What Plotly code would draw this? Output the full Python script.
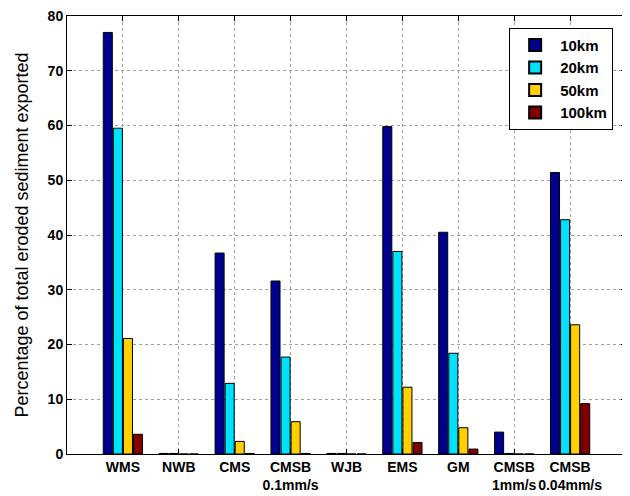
import plotly.graph_objects as go

categories = ["WMS", "NWB", "CMS", "CMSB<br>0.1mm/s", "WJB", "EMS", "GM", "CMSB<br>1mm/s", "CMSB<br>0.04mm/s"]
x_pos = [1, 2, 3, 4, 5, 6, 7, 8, 9]
series_names = ["10km", "20km", "50km", "100km"]
v10 = [77.0, 0.1, 36.7, 31.6, 0.1, 59.8, 40.5, 4.0, 51.4]
v20 = [59.5, 0.1, 12.9, 17.7, 0.1, 37.0, 18.4, 0.1, 42.8]
v50 = [21.1, 0.0, 2.3, 5.9, 0.0, 12.2, 4.8, 0.0, 23.6]
v100 = [3.6, 0.0, 0.1, 0.1, 0.0, 2.1, 0.9, 0.0, 9.2]
colors = ["#00008F", "#00E1FF", "#FFCF00", "#800000"]
y_ticks = [0, 10, 20, 30, 40, 50, 60, 70, 80]

FONT = "Liberation Sans, Arial, sans-serif"

fig = go.Figure()
for name, vals, col in zip(series_names, [v10, v20, v50, v100], colors):
    fig.add_trace(go.Bar(
        x=x_pos, y=vals, name=name,
        marker=dict(color=col, line=dict(color="black", width=1)),
    ))

fig.update_layout(
    width=622, height=488,
    margin=dict(l=59, r=4, t=8, b=42),
    paper_bgcolor="white", plot_bgcolor="white",
    barmode="group", bargap=0.28, bargroupgap=0.1,
    font=dict(family=FONT, color="black"),
    showlegend=True,
    legend=dict(
        x=0.977, y=0.973, xanchor="right", yanchor="top",
        bordercolor="black", borderwidth=1, bgcolor="white",
        font=dict(size=15, family=FONT, weight="bold"),
        itemsizing="constant", tracegroupgap=0, itemwidth=40,
    ),
)
fig.update_xaxes(
    range=[0, 10], tickmode="array", tickvals=x_pos, ticktext=categories,
    tickangle=0, automargin=False,
    showline=True, linecolor="black", linewidth=1, mirror="ticks",
    ticks="inside", ticklen=5, tickcolor="black",
    showgrid=True, gridcolor="#a0a0a0", griddash="dot", gridwidth=1,
    tickfont=dict(size=14, family=FONT, weight="bold"),
    zeroline=False,
)
fig.update_yaxes(
    range=[0, 80], tickmode="array", tickvals=y_ticks, automargin=False,
    ticksuffix="\u00a0", ticklabeloverflow="allow",
    showline=True, linecolor="black", linewidth=1, mirror="ticks",
    ticks="inside", ticklen=5, tickcolor="black",
    showgrid=True, gridcolor="#a0a0a0", griddash="dot", gridwidth=1,
    tickfont=dict(size=14, family=FONT, weight="bold"),
    title=dict(text="Percentage of total eroded sediment exported",
               font=dict(size=18, family=FONT), standoff=14),
    zeroline=False,
)
fig.write_html("out.html")
